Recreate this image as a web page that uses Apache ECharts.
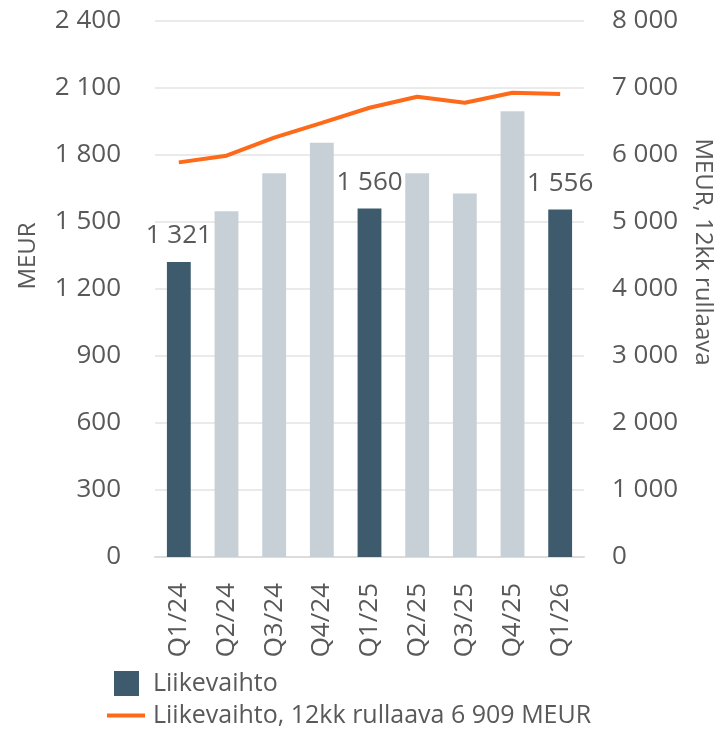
<!DOCTYPE html>
<html>
<head>
<meta charset="utf-8">
<script src="https://cdn.jsdelivr.net/npm/echarts@6/dist/echarts.min.js"></script>
<style>
  html, body { margin: 0; padding: 0; background: #fff; }
  #chart { width: 725px; height: 731px; }
</style>
</head>
<body>
<div id="chart"></div>
<script>
const quarters = ["Q1/24", "Q2/24", "Q3/24", "Q4/24", "Q1/25", "Q2/25", "Q3/25", "Q4/25", "Q1/26"];
const revenue = [1321, 1548, 1718, 1855, 1560, 1718, 1628, 1996, 1556];
const rolling12m = [5890, 5990, 6260, 6480, 6705, 6870, 6780, 6930, 6909];
const highlighted = [0, 4, 8]; // Q1 bars, dark + labelled

const dark = "#3e5a6d";
const light = "#c8d0d7";
const orange = "#fd6a1a";
const textColor = "#595959";
const font = "Open Sans";

// 1 321 style thousands
const fmt = v => String(v).replace(/\B(?=(\d{3})+(?!\d))/g, " ");

const barData = revenue.map((v, i) => {
  const hi = highlighted.includes(i);
  return {
    value: v,
    itemStyle: { color: hi ? dark : light },
    label: { show: hi }
  };
});

const chart = echarts.init(document.getElementById("chart"));
chart.setOption({
  animation: false,
  textStyle: { fontFamily: font },
  grid: { left: 155, right: 141, top: 21, bottom: 174, outerBoundsMode: "none", containLabel: false },
  legend: [
    {
      data: ["Liikevaihto"],
      left: 114, top: 671, padding: 0,
      itemWidth: 25, itemHeight: 25, icon: "rect",
      textStyle: { fontSize: 25, color: textColor, fontFamily: font, padding: [0, 0, 0, 9] }
    },
    {
      data: ["Liikevaihto, 12kk rullaava 6 909 MEUR"],
      left: 107, top: 703, padding: 0,
      itemWidth: 38, itemHeight: 4, icon: "rect",
      textStyle: { fontSize: 25, color: textColor, fontFamily: font, padding: [0, 0, 0, 3] }
    }
  ],
  xAxis: {
    type: "category",
    data: quarters,
    axisLine: { lineStyle: { color: "#dcdcdc", width: 2 } },
    axisTick: { show: false },
    axisLabel: { rotate: 90, margin: 26, fontSize: 26, color: textColor, fontFamily: font }
  },
  yAxis: [
    {
      type: "value",
      min: 0, max: 2400, interval: 300,
      name: "MEUR",
      nameLocation: "middle",
      nameGap: 115,
      nameTextStyle: { fontSize: 24, color: textColor, fontFamily: font, padding: [0, 0, 0, 66] },
      axisLine: { show: false },
      axisTick: { show: false },
      axisLabel: { margin: 34, fontSize: 26, color: textColor, fontFamily: font, formatter: fmt },
      splitLine: { lineStyle: { color: "#e3e3e3", width: 1.5 } }
    },
    {
      type: "value",
      min: 0, max: 8000, interval: 1000,
      name: "MEUR, 12kk rullaava",
      nameLocation: "middle",
      nameGap: 107,
      nameRotate: -90,
      nameTextStyle: { fontSize: 24, color: textColor, fontFamily: font, padding: [0, 74, 0, 0] },
      axisLine: { show: false },
      axisTick: { show: false },
      axisLabel: { margin: 28, fontSize: 26, color: textColor, fontFamily: font, formatter: fmt },
      splitLine: { show: false }
    }
  ],
  series: [
    {
      name: "Liikevaihto",
      type: "bar",
      barWidth: "50%",
      data: barData,
      itemStyle: { color: dark },
      label: {
        position: "top",
        distance: 13,
        fontSize: 26,
        color: textColor,
        fontFamily: font,
        formatter: p => fmt(p.value)
      }
    },
    {
      name: "Liikevaihto, 12kk rullaava 6 909 MEUR",
      type: "line",
      yAxisIndex: 1,
      data: rolling12m,
      symbol: "none",
      itemStyle: { color: orange },
      lineStyle: { color: orange, width: 4 }
    }
  ]
});
</script>
</body>
</html>
